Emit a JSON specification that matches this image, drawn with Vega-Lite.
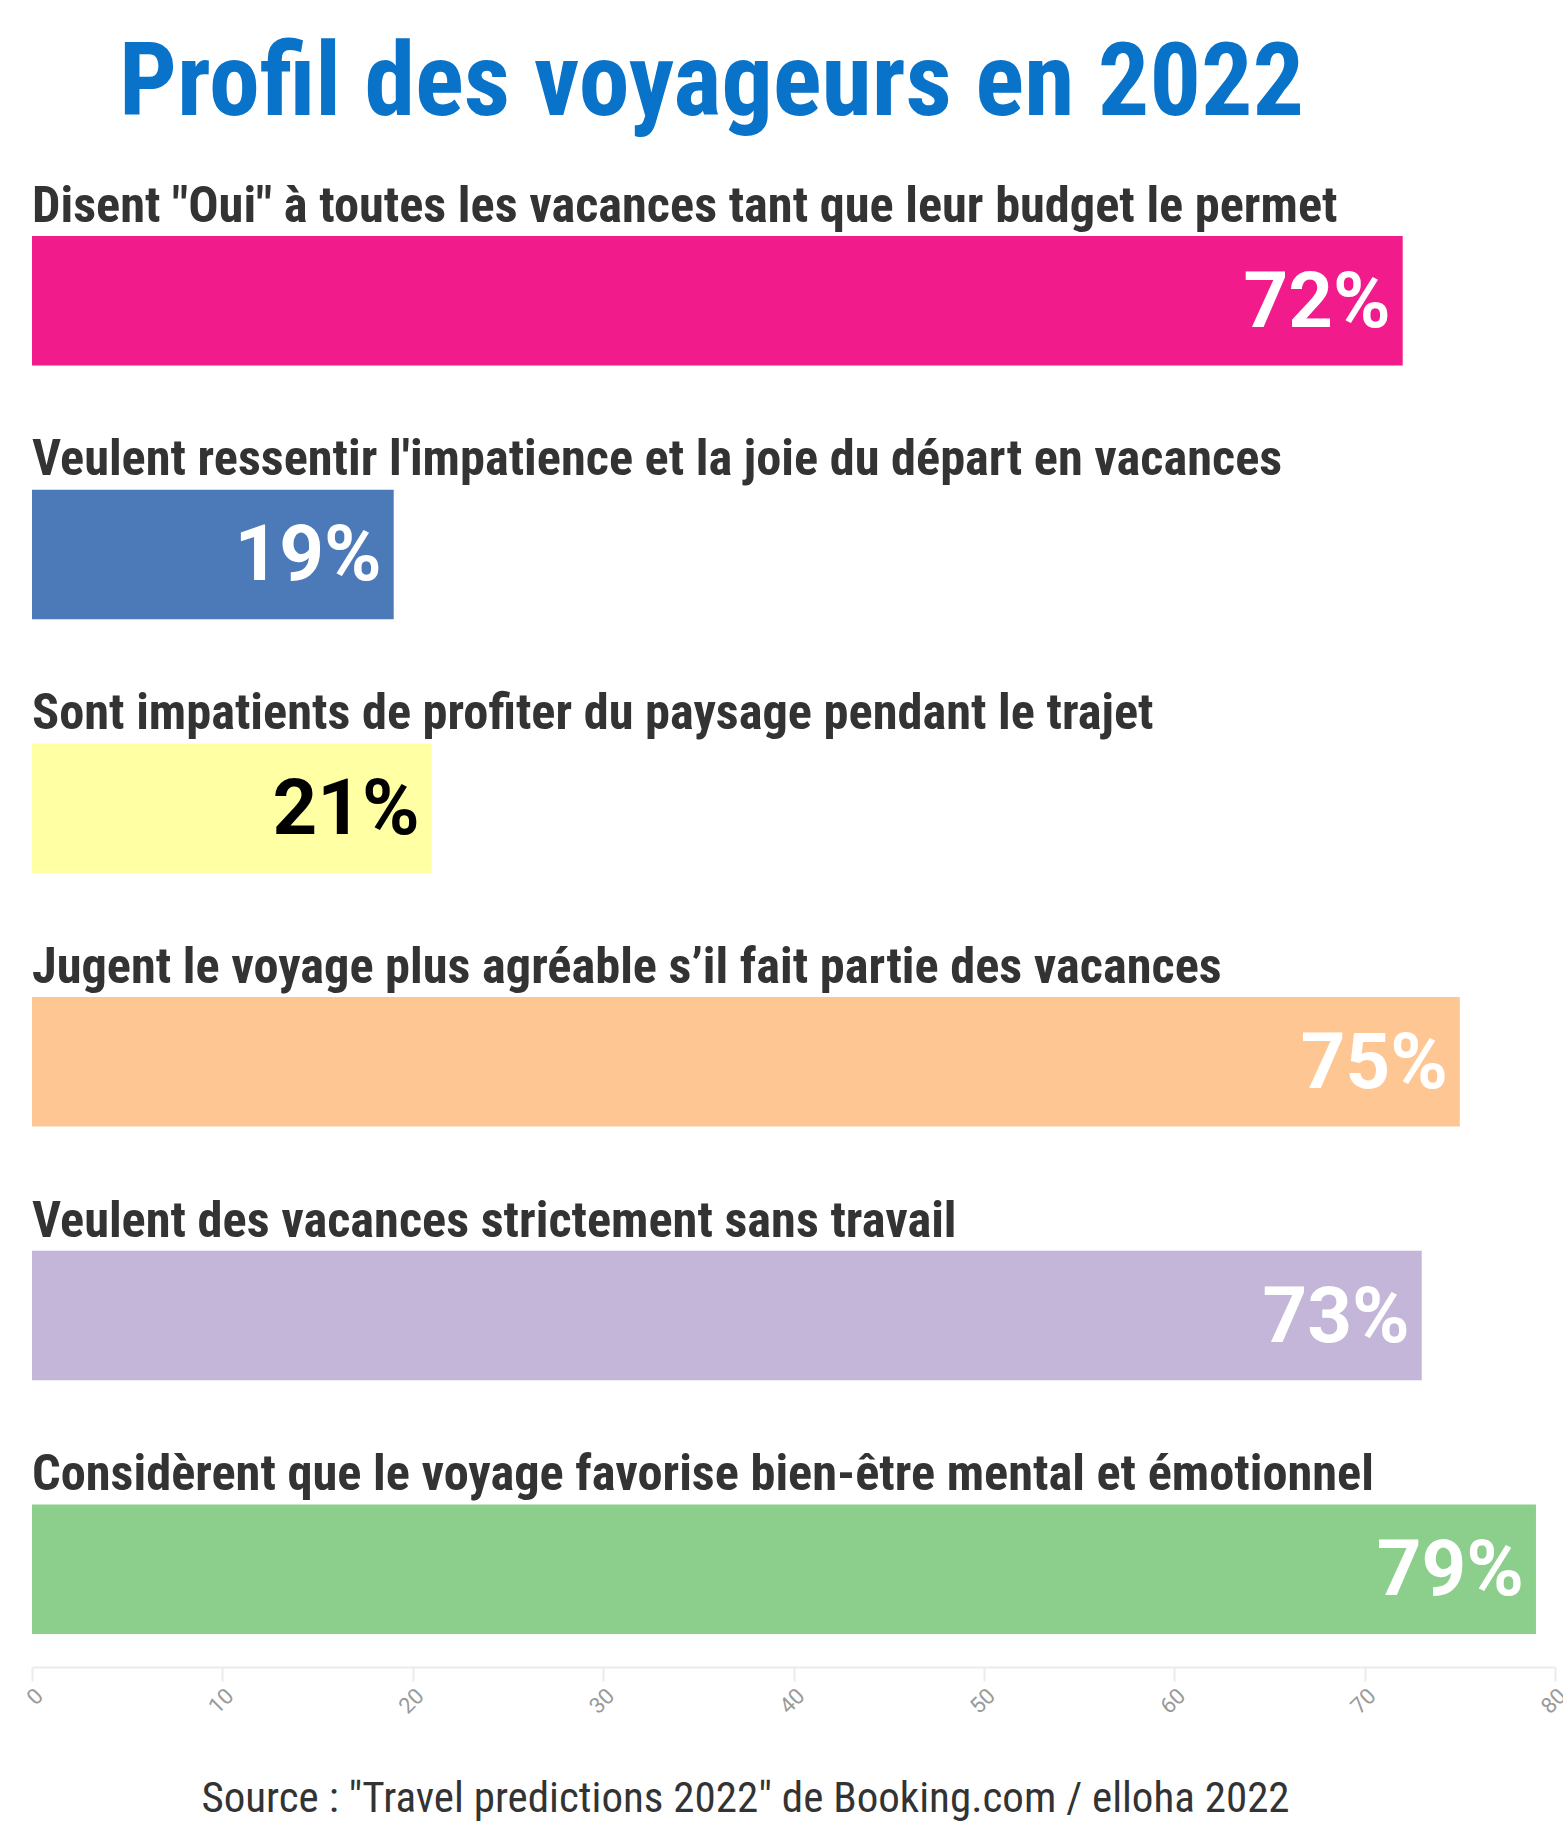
{
  "$schema": "https://vega.github.io/schema/vega-lite/v6.json",
  "width": 1523,
  "height": 1464,
  "autosize": {"type": "none"},
  "padding": {"left": 32, "top": 203, "right": 8, "bottom": 166},
  "background": "white",
  "config": {"view": {"stroke": null}},
  "title": {
    "text": "Profil des voyageurs en 2022",
    "anchor": "middle",
    "frame": "group",
    "dx": -82,
    "baseline": "alphabetic",
    "offset": -35,
    "fontSize": 102,
    "font": "'Roboto Condensed', 'Liberation Sans Narrow', 'Arial Narrow', 'DejaVu Sans Condensed', sans-serif",
    "fontWeight": "bold",
    "color": "#0873C9"
  },
  "data": {
    "values": [
      {"category": "Disent \"Oui\" à toutes les vacances tant que leur budget le permet", "pct": 72, "label": "72%"},
      {"category": "Veulent ressentir l'impatience et la joie du départ en vacances", "pct": 19, "label": "19%"},
      {"category": "Sont impatients de profiter du paysage pendant le trajet", "pct": 21, "label": "21%"},
      {"category": "Jugent le voyage plus agréable s’il fait partie des vacances", "pct": 75, "label": "75%"},
      {"category": "Veulent des vacances strictement sans travail", "pct": 73, "label": "73%"},
      {"category": "Considèrent que le voyage favorise bien-être mental et émotionnel", "pct": 79, "label": "79%"}
    ]
  },
  "encoding": {
    "y": {
      "field": "category",
      "type": "nominal",
      "sort": null,
      "scale": {"paddingInner": 0.4896, "paddingOuter": 0.13},
      "axis": null
    }
  },
  "layer": [
    {
      "mark": {"type": "bar", "fillOpacity": 0.9},
      "encoding": {
        "x": {
          "field": "pct",
          "type": "quantitative",
          "scale": {"domain": [0, 80], "nice": false},
          "axis": {
            "values": [0, 10, 20, 30, 40, 50, 60, 70, 80],
            "grid": false,
            "domainColor": "#ebebeb",
            "domainWidth": 2,
            "tickColor": "#ebebeb",
            "tickWidth": 2,
            "tickSize": 14,
            "labelAngle": -45,
            "labelFontSize": 22,
            "labelColor": "#9a9a9a",
            "labelFont": "Roboto, sans-serif",
            "labelPadding": 4,
            "title": "Source : \"Travel predictions 2022\" de Booking.com / elloha 2022",
            "titleFont": "'Roboto Condensed', 'Liberation Sans Narrow', 'Arial Narrow', 'DejaVu Sans Condensed', sans-serif",
            "titleFontSize": 43,
            "titleFontWeight": "normal",
            "titleColor": "#333333",
            "titleX": 713,
            "titleY": 144,
            "titleBaseline": "alphabetic",
            "titleAlign": "center"
          }
        },
        "color": {
          "field": "category",
          "type": "nominal",
          "sort": null,
          "scale": {
            "range": ["#f0027f", "#386cb0", "#ffff99", "#fdc086", "#beaed4", "#7fc97f"]
          },
          "legend": null
        }
      }
    },
    {
      "mark": {
        "type": "text",
        "align": "left",
        "baseline": "alphabetic",
        "dy": -79,
        "fontSize": 50.4,
        "font": "'Roboto Condensed', 'Liberation Sans Narrow', 'Arial Narrow', 'DejaVu Sans Condensed', sans-serif",
        "fontWeight": "bold",
        "color": "#333333"
      },
      "encoding": {
        "x": {"datum": 0},
        "text": {"field": "category"}
      }
    },
    {
      "mark": {
        "type": "text",
        "align": "right",
        "baseline": "alphabetic",
        "dx": -12,
        "dy": 26,
        "fontSize": 78,
        "font": "Roboto, sans-serif",
        "fontWeight": "bold"
      },
      "encoding": {
        "x": {"field": "pct", "type": "quantitative"},
        "text": {"field": "label"},
        "color": {
          "condition": {"test": "datum.pct === 21", "value": "#000000"},
          "value": "#ffffff"
        }
      }
    }
  ]
}
